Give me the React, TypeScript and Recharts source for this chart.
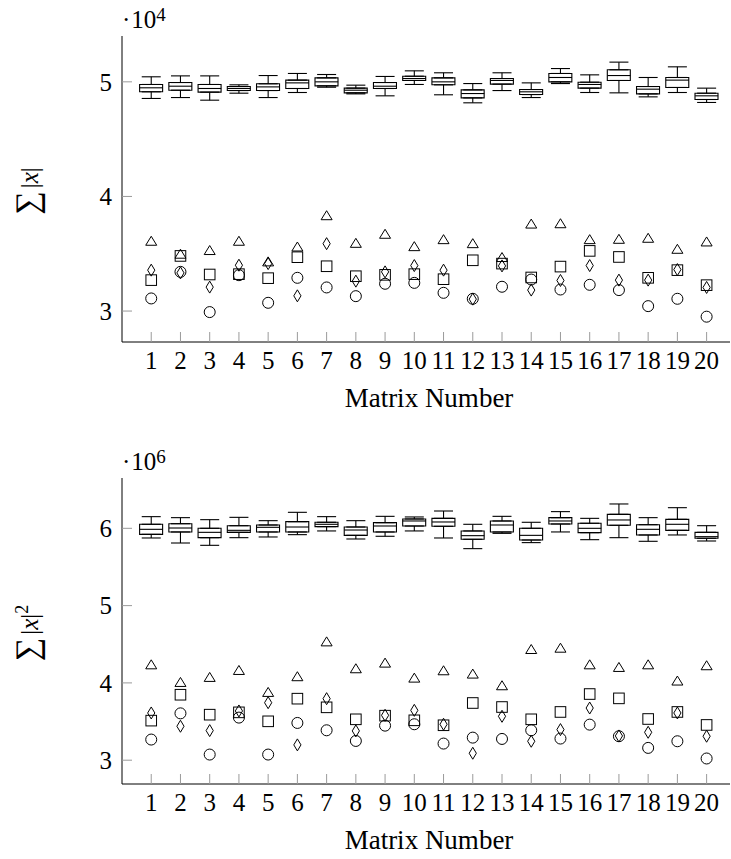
import React from 'react';
import { ComposedChart, Bar, Scatter, XAxis, YAxis, ErrorBar } from 'recharts';

const FONT = 'Liberation Serif, DejaVu Serif, serif';

const matrices = [1, 2, 3, 4, 5, 6, 7, 8, 9, 10, 11, 12, 13, 14, 15, 16, 17, 18, 19, 20];
const xTicks = [1, 2, 3, 4, 5, 6, 7, 8, 9, 10, 11, 12, 13, 14, 15, 16, 17, 18, 19, 20];

// Panel 1: sum |x|  (units of 1e4)
const absYTicks = [3, 4, 5];
const absLow = [4.855, 4.863, 4.84, 4.901, 4.863, 4.907, 4.953, 4.895, 4.878, 4.977, 4.887, 4.817, 4.924, 4.863, 4.985, 4.907, 4.904, 4.869, 4.907, 4.82];
const absQ1 = [4.913, 4.927, 4.91, 4.924, 4.924, 4.942, 4.965, 4.904, 4.942, 5.012, 4.974, 4.86, 4.98, 4.889, 5.0, 4.945, 5.012, 4.895, 4.951, 4.846];
const absMed = [4.948, 4.962, 4.942, 4.942, 4.956, 4.991, 5.0, 4.927, 4.962, 5.029, 5.0, 4.898, 5.012, 4.913, 5.038, 4.977, 5.055, 4.936, 5.015, 4.878];
const absQ3 = [4.977, 4.994, 4.977, 4.959, 4.983, 5.015, 5.035, 4.945, 4.994, 5.049, 5.035, 4.93, 5.029, 4.933, 5.073, 4.997, 5.105, 4.959, 5.038, 4.901];
const absHigh = [5.044, 5.052, 5.052, 4.974, 5.055, 5.073, 5.064, 4.971, 5.047, 5.096, 5.079, 4.985, 5.079, 4.991, 5.116, 5.061, 5.172, 5.038, 5.131, 4.945];
const absTri = [3.609, 3.496, 3.528, 3.609, 3.429, 3.559, 3.832, 3.591, 3.67, 3.562, 3.623, 3.588, 3.467, 3.759, 3.762, 3.623, 3.626, 3.635, 3.539, 3.603];
const absSq = [3.27, 3.481, 3.319, 3.322, 3.287, 3.47, 3.391, 3.304, 3.316, 3.322, 3.278, 3.443, 3.414, 3.293, 3.388, 3.525, 3.472, 3.29, 3.357, 3.226];
const absDia = [3.357, 3.333, 3.209, 3.4, 3.414, 3.133, 3.588, 3.261, 3.342, 3.397, 3.357, 3.104, 3.394, 3.183, 3.267, 3.397, 3.27, 3.27, 3.362, 3.206];
const absCirc = [3.11, 3.342, 2.991, 3.313, 3.072, 3.29, 3.206, 3.13, 3.238, 3.246, 3.159, 3.107, 3.212, 3.275, 3.188, 3.229, 3.183, 3.043, 3.107, 2.951];

// Panel 2: sum |x|^2 (units of 1e6)
const sqYTicks = [3, 4, 5, 6];
const sqLow = [5.875, 5.81, 5.78, 5.879, 5.888, 5.918, 5.966, 5.862, 5.897, 5.966, 5.875, 5.737, 5.935, 5.815, 5.953, 5.853, 5.879, 5.832, 5.914, 5.836];
const sqQ1 = [5.922, 5.953, 5.879, 5.948, 5.953, 5.953, 6.022, 5.909, 5.953, 6.03, 6.026, 5.858, 5.953, 5.849, 6.056, 5.944, 6.039, 5.914, 5.974, 5.871];
const sqMed = [5.987, 6.004, 5.948, 5.974, 6.013, 6.017, 6.052, 5.978, 6.03, 6.095, 6.082, 5.905, 6.043, 5.909, 6.095, 6.0, 6.108, 5.987, 6.052, 5.892];
const sqQ3 = [6.052, 6.06, 6.0, 6.034, 6.043, 6.086, 6.078, 6.017, 6.073, 6.121, 6.129, 5.966, 6.095, 6.0, 6.138, 6.065, 6.181, 6.047, 6.116, 5.948];
const sqHigh = [6.151, 6.138, 6.112, 6.142, 6.099, 6.207, 6.151, 6.099, 6.155, 6.147, 6.224, 6.052, 6.155, 6.078, 6.216, 6.129, 6.315, 6.138, 6.267, 6.034];
const sqTri = [4.234, 4.006, 4.071, 4.161, 3.877, 4.08, 4.531, 4.183, 4.256, 4.062, 4.157, 4.114, 3.963, 4.432, 4.449, 4.234, 4.2, 4.234, 4.024, 4.222];
const sqSq = [3.512, 3.847, 3.589, 3.619, 3.503, 3.796, 3.684, 3.529, 3.576, 3.516, 3.452, 3.74, 3.688, 3.529, 3.624, 3.856, 3.8, 3.533, 3.624, 3.456];
const sqDia = [3.611, 3.439, 3.383, 3.637, 3.744, 3.198, 3.796, 3.379, 3.581, 3.645, 3.465, 3.09, 3.568, 3.245, 3.396, 3.675, 3.314, 3.361, 3.611, 3.31];
const sqCirc = [3.267, 3.606, 3.073, 3.551, 3.073, 3.482, 3.387, 3.249, 3.447, 3.465, 3.215, 3.292, 3.275, 3.387, 3.28, 3.46, 3.31, 3.159, 3.245, 3.022];

function buildRows(low, q1, med, q3, high, tri, sq, dia, circ) {
  return matrices.map((m, i) => ({
    x: m,
    box: [q1[i], q3[i]],
    q1: q1[i],
    q3: q3[i],
    med: med[i],
    lowErr: [q1[i] - low[i], 0],
    highErr: [0, high[i] - q3[i]],
    tri: tri[i],
    sq: sq[i],
    dia: dia[i],
    circ: circ[i],
  }));
}

const absRows = buildRows(absLow, absQ1, absMed, absQ3, absHigh, absTri, absSq, absDia, absCirc);
const sqRows = buildRows(sqLow, sqQ1, sqMed, sqQ3, sqHigh, sqTri, sqSq, sqDia, sqCirc);

const INK = '#000';
const TICK = '#9a9a9a';
const BOX_W = 23;
const CAP_HALF = 9.5;
const SW = 1.1;

const ok = (p) => p && typeof p.cx === 'number' && typeof p.cy === 'number' && !isNaN(p.cy);

const Empty = () => <g />;
const MedianShape = (p) => {
  if (!ok(p)) return <g />;
  return <line x1={p.cx - BOX_W / 2} x2={p.cx + BOX_W / 2} y1={p.cy} y2={p.cy} stroke={INK} strokeWidth={SW} />;
};
const TriShape = (p) => {
  if (!ok(p)) return <g />;
  const { cx, cy } = p;
  return <path d={`M${cx},${cy - 5} L${cx + 5.5},${cy + 4} L${cx - 5.5},${cy + 4} Z`} fill="none" stroke={INK} strokeWidth={1} />;
};
const SqShape = (p) => {
  if (!ok(p)) return <g />;
  return <rect x={p.cx - 5.3} y={p.cy - 5.3} width={10.6} height={10.6} fill="none" stroke={INK} strokeWidth={1} />;
};
const DiaShape = (p) => {
  if (!ok(p)) return <g />;
  const { cx, cy } = p;
  return <path d={`M${cx},${cy - 6} L${cx + 3.6},${cy} L${cx},${cy + 6} L${cx - 3.6},${cy} Z`} fill="none" stroke={INK} strokeWidth={1} />;
};
const CircShape = (p) => {
  if (!ok(p)) return <g />;
  return <circle cx={p.cx} cy={p.cy} r={5.5} fill="none" stroke={INK} strokeWidth={1} />;
};

const tickStyle = { fill: '#000', fontSize: 25, fontFamily: FONT };

function Panel({ rows, domain, yTicks, exponent, squared }) {
  const yLabel = (props) => {
    const vb = props && props.viewBox ? props.viewBox : { x: 0, y: 36, width: 122, height: 306 };
    const plotLeft = vb.x + vb.width;
    const cy = vb.y + vb.height / 2 + 2;
    const bx = plotLeft - 84;
    return (
      <g>
        <text
          x={0}
          y={0}
          transform={`translate(${bx}, ${cy}) rotate(-90)`}
          textAnchor="middle"
          fontFamily={FONT}
          fontSize={25}
          fill="#000"
        >
          <tspan fontSize={33}>∑</tspan>
          <tspan dx={3}>|</tspan>
          <tspan fontStyle="italic">x</tspan>
          <tspan>|</tspan>
          {squared ? (
            <tspan fontSize={18} dy={-10}>
              2
            </tspan>
          ) : null}
        </text>
        <text x={plotLeft} y={vb.y - 8} fontFamily={FONT} fontSize={25} fill="#000">
          <tspan>·</tspan>
          <tspan dx={1}>10</tspan>
          <tspan fontSize={19} dy={-7}>
            {exponent}
          </tspan>
        </text>
      </g>
    );
  };
  const xLabel = (props) => {
    const vb = props && props.viewBox ? props.viewBox : { x: 122, y: 342, width: 608, height: 75 };
    return (
      <text
        x={vb.x + vb.width / 2 + 3}
        y={vb.y + 65}
        textAnchor="middle"
        fontFamily={FONT}
        fontSize={27}
        fill="#000"
      >
        Matrix Number
      </text>
    );
  };

  return (
    <ComposedChart width={731} height={417} data={rows} margin={{ top: 36, right: 1, bottom: 0, left: 0 }}>
      <XAxis
        dataKey="x"
        type="number"
        domain={[0, 20.8]}
        allowDataOverflow
        ticks={xTicks}
        interval={0}
        height={75}
        tickSize={-10}
        tickMargin={19}
        tick={tickStyle}
        tickLine={{ stroke: TICK, strokeWidth: 1 }}
        axisLine={{ stroke: INK, strokeWidth: 1 }}
        label={{ content: xLabel }}
      />
      <XAxis
        xAxisId="top"
        orientation="top"
        dataKey="x"
        type="number"
        domain={[0, 20.8]}
        allowDataOverflow
        ticks={xTicks}
        interval={0}
        height={0}
        tickSize={-10}
        tick={false}
        tickLine={{ stroke: TICK, strokeWidth: 1 }}
        axisLine={{ stroke: INK, strokeWidth: 1 }}
      />
      <YAxis
        type="number"
        domain={domain}
        allowDataOverflow
        ticks={yTicks}
        interval={0}
        width={122}
        tickSize={-10}
        tickMargin={20}
        tick={tickStyle}
        tickLine={{ stroke: TICK, strokeWidth: 1 }}
        axisLine={{ stroke: INK, strokeWidth: 1 }}
        label={{ content: yLabel }}
      />
      <YAxis
        yAxisId="right"
        orientation="right"
        type="number"
        domain={domain}
        allowDataOverflow
        ticks={yTicks}
        interval={0}
        width={0}
        tickSize={-10}
        tick={false}
        tickLine={{ stroke: TICK, strokeWidth: 1 }}
        axisLine={{ stroke: INK, strokeWidth: 1 }}
      />
      <Bar dataKey="box" barSize={BOX_W} fill="#fff" stroke={INK} strokeWidth={SW} isAnimationActive={false} />
      <Scatter data={rows} dataKey="q3" shape={Empty} isAnimationActive={false}>
        <ErrorBar dataKey={(d) => (d && d.payload ? d.payload.highErr : d.highErr)} direction="y" width={CAP_HALF} stroke={INK} strokeWidth={SW} />
      </Scatter>
      <Scatter data={rows} dataKey="q1" shape={Empty} isAnimationActive={false}>
        <ErrorBar dataKey={(d) => (d && d.payload ? d.payload.lowErr : d.lowErr)} direction="y" width={CAP_HALF} stroke={INK} strokeWidth={SW} />
      </Scatter>
      <Scatter data={rows} dataKey="med" shape={MedianShape} isAnimationActive={false} />
      <Scatter data={rows} dataKey="tri" shape={TriShape} isAnimationActive={false} />
      <Scatter data={rows} dataKey="sq" shape={SqShape} isAnimationActive={false} />
      <Scatter data={rows} dataKey="dia" shape={DiaShape} isAnimationActive={false} />
      <Scatter data={rows} dataKey="circ" shape={CircShape} isAnimationActive={false} />
    </ComposedChart>
  );
}

export default function App() {
  return (
    <div style={{ position: 'absolute', left: 0, top: 0, width: 731, height: 859, background: '#fff' }}>
      <div style={{ position: 'absolute', left: 0, top: 0 }}>
        <Panel rows={absRows} domain={[2.73, 5.4]} yTicks={absYTicks} exponent="4" squared={false} />
      </div>
      <div style={{ position: 'absolute', left: 0, top: 442 }}>
        <Panel rows={sqRows} domain={[2.692, 6.651]} yTicks={sqYTicks} exponent="6" squared={true} />
      </div>
    </div>
  );
}
